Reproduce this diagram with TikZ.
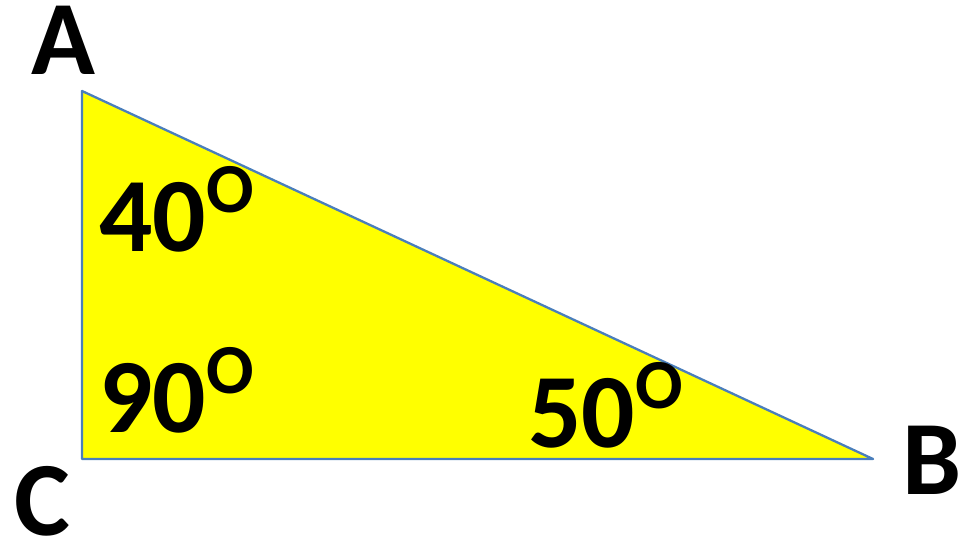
\documentclass[tikz,border=0pt]{standalone}
\usepackage{fontspec}
\setmainfont{Carlito}
\definecolor{triyellow}{RGB}{255,255,0}
\definecolor{triedge}{RGB}{74,126,187}
\newcommand{\degO}{\raisebox{0.37em}{\fontsize{40}{42}\selectfont O}}
\begin{document}
\begin{tikzpicture}[font=\fontsize{60}{72}\selectfont\bfseries,
  lbl/.style={anchor=base west, inner sep=0pt}]
\useasboundingbox (0,0) rectangle (19.32,10.86);
% corners of the triangle
\coordinate (A) at (1.64,9.04);
\coordinate (C) at (1.64,1.68);
\coordinate (B) at (17.46,1.68);

\filldraw[fill=triyellow, draw=triedge, line width=1.3pt, line join=round]
  (A) -- (B) -- (C) -- cycle;

% vertex letters
\node[lbl] (lblA) at (0.62,9.36) {A};
\node[lbl] (lblC) at (0.28,0.14) {C};
\node[lbl] (lblB) at (18.04,0.96) {B};

% angles
\node[lbl] (angA) at (1.98,5.82) {40\degO};
\node[lbl] (angC) at (1.98,2.2) {90\degO};
\node[lbl] (angB) at (10.56,1.9) {50\degO};
\end{tikzpicture}
\end{document}
